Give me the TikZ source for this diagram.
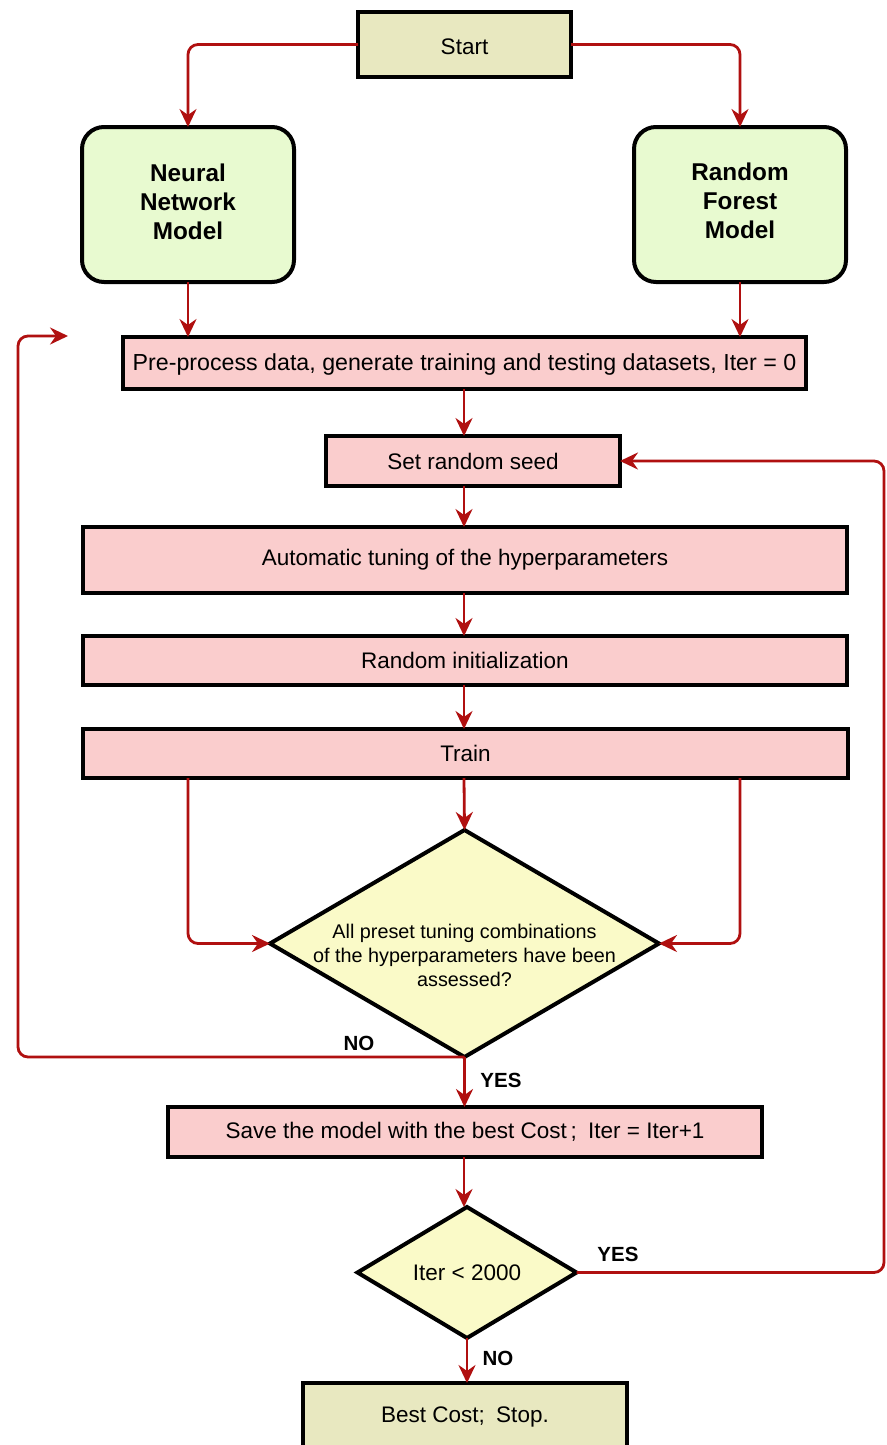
\documentclass[tikz,border=0pt]{standalone}
\usepackage{fontspec}
\setmainfont{Liberation Sans}
\usetikzlibrary{shapes.geometric,arrows.meta}
\definecolor{pinkfill}{RGB}{250,205,205}
\definecolor{greenfill}{RGB}{232,250,208}
\definecolor{khaki}{RGB}{232,232,192}
\definecolor{diafill}{RGB}{250,250,200}
\definecolor{arrred}{RGB}{176,16,16}
\tikzset{
  box/.style={draw=black,line width=4pt,fill=pinkfill,inner sep=0pt,outer sep=0pt,
    font=\fontsize{22.5}{26}\selectfont},
  endbox/.style={box,fill=khaki},
  modelbox/.style={draw=black,line width=4pt,fill=greenfill,rounded corners=22pt,inner sep=0pt,outer sep=0pt,
    minimum width=212pt,minimum height=155pt,align=center,
    font=\fontsize{24.3}{29}\selectfont\bfseries},
  decision/.style={diamond,draw=black,line width=4pt,fill=diafill,inner sep=0pt,outer sep=0pt},
  arr/.style={draw=arrred,line width=2.8pt,rounded corners=10pt,
    -{Stealth[length=18pt,width=17pt,inset=6pt]}},
  lbl/.style={font=\fontsize{20.5}{24}\selectfont\bfseries,inner sep=0pt}
}
\begin{document}
\begin{tikzpicture}[x=1pt,y=-1pt]
\useasboundingbox[fill=white] (0,0) rectangle (886,1445);
% nodes
\node[endbox,minimum width=213pt,minimum height=65pt] (start) at (464.5,44.5) {};
\node[font=\fontsize{22.5}{26}\selectfont,inner sep=0pt] (starttext) at (464.5,46.5) {Start};
\node[modelbox] (nn) at (188,204.5) {};
\node[modelbox,fill=none,draw=none] (nntext) at (188,201.5) {Neural\\Network\\Model};
\node[modelbox] (rf) at (740,204.5) {};
\node[modelbox,fill=none,draw=none] (rftext) at (740,200.5) {Random\\Forest\\Model};
\node[box,minimum width=683pt,minimum height=52pt] (pre) at (464.5,363) {};
\node[font=\fontsize{23.2}{26}\selectfont,inner sep=0pt] (pretext) at (464.5,364.5) {Pre-process data, generate training and testing datasets, Iter = 0};
\node[box,minimum width=294pt,minimum height=50pt] (seed) at (473,461) {Set random seed};
\node[box,minimum width=764pt,minimum height=66pt] (auto) at (465,560) {Automatic tuning of the hyperparameters};
\node[box,minimum width=764pt,minimum height=49pt] (init) at (465,660.5) {Random initialization};
\node[box,minimum width=765pt,minimum height=49pt] (train) at (465.5,753.5) {Train};
\node[decision,minimum width=389pt,minimum height=227pt] (d1) at (464.5,943.5) {};
\node[align=center,font=\fontsize{19.8}{24}\selectfont,inner sep=0pt] (d1text) at (464.5,955) {All preset tuning combinations\\of the hyperparameters have been\\assessed?};
\node[box,minimum width=594pt,minimum height=50pt] (save) at (465,1132) {Save the model with the best Cost\,;\enspace Iter = Iter+1};
\node[decision,minimum width=219pt,minimum height=131pt,font=\fontsize{22.5}{26}\selectfont] (d2) at (467,1272.5) {Iter < 2000};
\node[endbox,minimum width=324pt,minimum height=80pt] (stop) at (465,1423) {};
\node[font=\fontsize{22.5}{26}\selectfont,inner sep=0pt] (stoptext) at (465,1417) {Best Cost;\enspace Stop.};
% coordinates
\coordinate (noend) at (68,336);
\coordinate (loopL) at (18,0);
\coordinate (loopR) at (884,0);
\coordinate (col) at (464,0);
% connectors
\draw[arr] (start.west) -| (nn.north);
\draw[arr] (start.east) -| (rf.north);
\draw[arr] (nn.south) -- (nn.south |- pre.north);
\draw[arr] (rf.south) -- (rf.south |- pre.north);
\draw[arr] (col |- pre.south) -- (col |- seed.north);
\draw[arr] (col |- seed.south) -- (col |- auto.north);
\draw[arr] (col |- auto.south) -- (col |- init.north);
\draw[arr] (col |- init.south) -- (col |- train.north);
\draw[arr] (col |- train.south) -- (d1.north);
\draw[arr] (nn.south |- train.south) |- (d1.west);
\draw[arr] (rf.south |- train.south) |- (d1.east);
\draw[arr] (d1.south) -| (loopL |- noend) -- (noend);
\draw[arr] (d1.south) -- (d1.south |- save.north);
\draw[arr] (col |- save.south) -- (col |- d2.north);
\draw[arr] (d2.east) -| (loopR |- seed.east) -- (seed.east);
\draw[arr] (d2.south) -- (d2.south |- stop.north);
% labels
\node[lbl] (lno1) at (359,1043) {NO};
\node[lbl] (lyes1) at (501,1080) {YES};
\node[lbl] (lyes2) at (618,1254) {YES};
\node[lbl] (lno2) at (498,1358) {NO};
\end{tikzpicture}
\end{document}
